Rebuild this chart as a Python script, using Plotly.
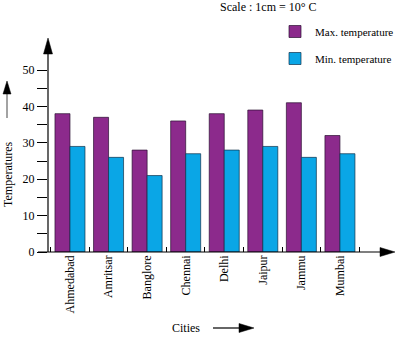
import plotly.graph_objects as go

cities = ["Ahmedabad", "Amritsar", "Banglore", "Chennai", "Delhi", "Jaipur", "Jammu", "Mumbai"]
max_temp = [38, 37, 28, 36, 38, 39, 41, 32]
min_temp = [29, 26, 21, 27, 28, 29, 26, 27]
y_tickvals = [0, 5, 10, 15, 20, 25, 30, 35, 40, 45, 50]
y_ticktext = ["0", "", "10", "", "20", "", "30", "", "40", "", "50"]

PURPLE = "#8C2A8C"
BLUE = "#0AA6E6"
FONT = "Liberation Serif"
FS = 12

W, H = 401, 337
L, R, T, B = 48, 392, 40, 252  # plot area in pixels


def X(px):
    return (px - L) / (R - L)


def Y(py):
    return (B - py) / (B - T)


fig = go.Figure()
fig.add_trace(go.Bar(x=cities, y=max_temp, name="Max. temperature", legendgroup="max",
                     marker=dict(color=PURPLE, line=dict(color="#2a1030", width=0.7))))
fig.add_trace(go.Bar(x=cities, y=min_temp, name="Min. temperature", legendgroup="min",
                     marker=dict(color=BLUE, line=dict(color="#10304a", width=0.7))))

shapes = []
# y axis line + arrowhead
shapes.append(dict(type="line", xref="paper", yref="paper", x0=X(48), x1=X(48), y0=Y(252), y1=Y(50),
                   line=dict(color="black", width=1.2)))
shapes.append(dict(type="path", xref="paper", yref="paper",
                   path=f"M{X(48)},{Y(38)} L{X(43.5)},{Y(54)} L{X(52.5)},{Y(54)} Z",
                   fillcolor="black", line=dict(color="black", width=0.5)))
# x axis line + arrowhead
shapes.append(dict(type="line", xref="paper", yref="paper", x0=X(38), x1=X(385), y0=Y(252), y1=Y(252),
                   line=dict(color="black", width=1.2)))
shapes.append(dict(type="path", xref="paper", yref="paper",
                   path=f"M{X(395)},{Y(252)} L{X(380)},{Y(247.5)} L{X(380)},{Y(256.5)} Z",
                   fillcolor="black", line=dict(color="black", width=0.5)))
# y title arrow
shapes.append(dict(type="line", xref="paper", yref="paper", x0=X(7), x1=X(7), y0=Y(118), y1=Y(92),
                   line=dict(color="#666666", width=1.2)))
shapes.append(dict(type="path", xref="paper", yref="paper",
                   path=f"M{X(7)},{Y(81)} L{X(3)},{Y(94)} L{X(11)},{Y(94)} Z",
                   fillcolor="black", line=dict(color="black", width=0.5)))
# cities arrow
shapes.append(dict(type="line", xref="paper", yref="paper", x0=X(213), x1=X(242), y0=Y(328), y1=Y(328),
                   line=dict(color="black", width=1.2)))
shapes.append(dict(type="path", xref="paper", yref="paper",
                   path=f"M{X(254)},{Y(328)} L{X(239)},{Y(323.5)} L{X(239)},{Y(332.5)} Z",
                   fillcolor="black", line=dict(color="black", width=0.5)))

annotations = [
    dict(text="Temperatures", textangle=-90, xref="paper", yref="paper", x=X(8), y=Y(175),
         xanchor="center", yanchor="middle", showarrow=False, font=dict(family=FONT, size=FS, color="black")),
    dict(text="Cities", xref="paper", yref="paper", x=X(186), y=Y(328),
         xanchor="center", yanchor="middle", showarrow=False, font=dict(family=FONT, size=FS, color="black")),
    dict(text="Scale : 1cm = 10° C", xref="paper", yref="paper", x=X(268), y=Y(7),
         xanchor="center", yanchor="middle", showarrow=False, font=dict(family=FONT, size=FS, color="black")),
]

fig.update_layout(
    width=W, height=H,
    margin=dict(l=L, r=W - R, t=T, b=H - B, pad=0, autoexpand=False),
    paper_bgcolor="white", plot_bgcolor="white",
    font=dict(family=FONT, size=FS, color="black"),
    barmode="group", bargap=0.222, bargroupgap=0,
    shapes=shapes, annotations=annotations,
    legend=dict(x=X(275), y=Y(17), xanchor="left", yanchor="top", bgcolor="rgba(0,0,0,0)",
                font=dict(family=FONT, size=11), tracegroupgap=8, traceorder="grouped",
                itemwidth=30),
    showlegend=True,
)
fig.update_xaxes(range=[-0.57, 8.35], showgrid=False, zeroline=False, showline=False,
                 ticks="inside", ticklen=5, tickcolor="black", tickson="boundaries",
                 tickangle=-90, tickfont=dict(family=FONT, size=FS), automargin=False)
fig.update_yaxes(range=[0, (B - T) / 3.64], showgrid=False, zeroline=False, showline=False,
                 tickvals=y_tickvals, ticktext=y_ticktext, ticks="outside", ticklen=10,
                 tickcolor="black", tickfont=dict(family=FONT, size=FS), automargin=False)

fig.write_html("out.html")
